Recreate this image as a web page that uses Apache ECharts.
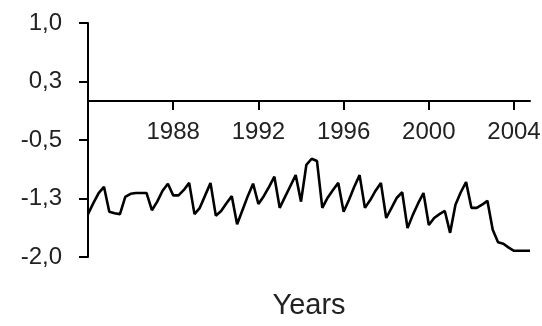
<!DOCTYPE html>
<html>
<head>
<meta charset="utf-8">
<script src="https://cdn.jsdelivr.net/npm/echarts@6/dist/echarts.min.js"></script>
<style>html,body{margin:0;padding:0;background:#fff}#c{width:542px;height:326px}</style>
</head>
<body>
<div id="c"></div>
<script>
// Years covered (quarterly observations, Q1..Q4 each year)
const years = [1984,1985,1986,1987,1988,1989,1990,1991,1992,1993,1994,1995,1996,1997,1998,1999,2000,2001,2002,2003,2004];
const quarterOffsets = [0, 0.25, 0.5, 0.75];
// Quarterly values (4 per year)
const values = [
  -1.45,-1.31,-1.18,-1.10,
  -1.42,-1.44,-1.45,-1.23,
  -1.19,-1.18,-1.18,-1.18,
  -1.40,-1.29,-1.15,-1.06,
  -1.21,-1.21,-1.14,-1.05,
  -1.45,-1.37,-1.21,-1.05,
  -1.47,-1.41,-1.31,-1.22,
  -1.58,-1.40,-1.22,-1.06,
  -1.32,-1.22,-1.10,-0.97,
  -1.37,-1.23,-1.09,-0.95,
  -1.29,-0.82,-0.74,-0.77,
  -1.37,-1.24,-1.14,-1.05,
  -1.42,-1.27,-1.10,-0.95,
  -1.37,-1.27,-1.15,-1.05,
  -1.50,-1.37,-1.24,-1.17,
  -1.63,-1.46,-1.31,-1.18,
  -1.59,-1.50,-1.45,-1.41,
  -1.69,-1.33,-1.17,-1.04,
  -1.37,-1.37,-1.33,-1.28,
  -1.65,-1.81,-1.83,-1.88,
  -1.92,-1.92,-1.92,-1.92
];
const xTickYears = [1988, 1992, 1996, 2000, 2004];
const yTickValues = [-2, -1.25, -0.5, 0.25, 1];
const yTickLabels = ['-2,0', '-1,3', '-0,5', '0,3', '1,0'];
const yMin = -2, yMax = 1;

const data = [];
years.forEach((y, i) => {
  quarterOffsets.forEach((q, j) => {
    data.push([y + q, values[i * 4 + j]]);
  });
});

const gridTop = 23, gridBottom = 69, H = 326;
const plotH = H - gridTop - gridBottom;
// shift the x axis up so that it sits on the zero line
const zeroOffset = -Math.round(plotH * (0 - yMin) / (yMax - yMin));

const txt = { fontFamily: 'Liberation Sans', color: '#222' };
const chart = echarts.init(document.getElementById('c'), null, { renderer: 'canvas' });
chart.setOption({
  animation: false,
  backgroundColor: '#fff',
  grid: { left: 88, right: 12, top: gridTop, bottom: gridBottom, containLabel: false, outerBoundsMode: 'none' },
  xAxis: {
    type: 'value',
    min: 1984,
    max: 2004.75,
    offset: zeroOffset,
    name: 'Years',
    nameLocation: 'middle',
    nameGap: 190,
    nameTextStyle: Object.assign({ fontSize: 29 }, txt),
    axisLine: { onZero: false, lineStyle: { color: '#000', width: 2 } },
    axisTick: { show: true, length: 9, lineStyle: { color: '#000', width: 2 }, customValues: xTickYears },
    axisLabel: Object.assign({ fontSize: 24, margin: 19, customValues: xTickYears, formatter: v => String(v) }, txt),
    splitLine: { show: false }
  },
  yAxis: {
    type: 'value',
    min: yMin,
    max: yMax,
    axisLine: { show: true, onZero: false, lineStyle: { color: '#000', width: 2 } },
    axisTick: { show: true, inside: false, length: 9, lineStyle: { color: '#000', width: 2 }, customValues: yTickValues },
    axisLabel: Object.assign({ fontSize: 24, margin: 26, customValues: yTickValues,
      formatter: v => { const i = yTickValues.findIndex(t => Math.abs(t - v) < 1e-9); return i >= 0 ? yTickLabels[i] : ''; } }, txt),
    splitLine: { show: false }
  },
  series: [{
    type: 'line',
    data: data,
    showSymbol: false,
    symbol: 'none',
    lineStyle: { color: '#000', width: 2.6 },
    z: 3
  }]
});
</script>
</body>
</html>
